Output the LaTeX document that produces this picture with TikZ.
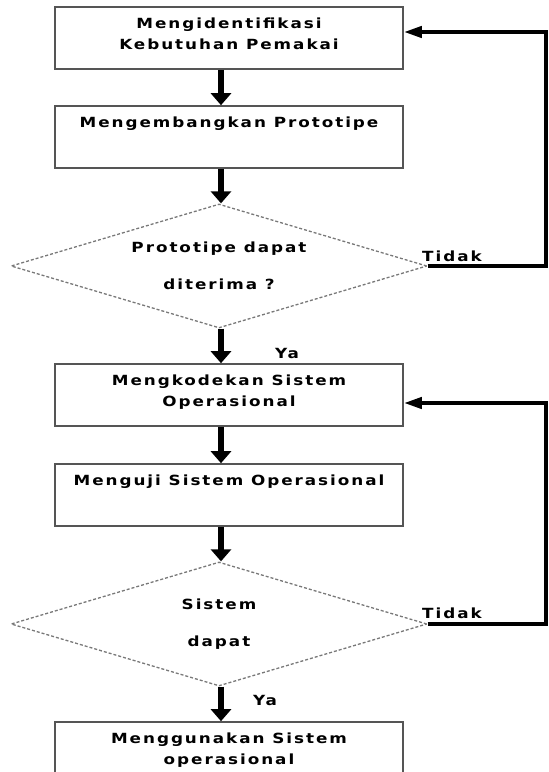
\documentclass[tikz,border=0pt]{standalone}
\usepackage{fontspec}
\setmainfont{DejaVu Sans}
\newfontfamily\lblfont{DejaVu Sans}[FakeStretch=1.2,LetterSpace=14]
\usetikzlibrary{shapes.geometric,arrows.meta}
\definecolor{boxgray}{RGB}{85,85,85}
\definecolor{dashgray}{RGB}{120,120,120}
\newcommand{\bxt}[1]{\parbox[c][41pt][t]{340pt}{\centering #1}}
\begin{document}
\begin{tikzpicture}[x=1pt,y=-1pt,
  procbox/.style={draw=boxgray, line width=1.6pt, rectangle, minimum width=348pt, minimum height=62pt, inner sep=0pt, font=\lblfont\bfseries\fontsize{14}{21}\selectfont},
  decide/.style={draw=dashgray, dash pattern=on 3pt off 2pt, line width=1.3pt, diamond, aspect=3.35, minimum width=416pt, minimum height=124pt, inner sep=0pt, align=center, font=\lblfont\bfseries\fontsize{14}{37}\selectfont},
  flow/.style={line width=6.5pt, -{Triangle[width=20pt,length=12pt]}},
  back/.style={line width=4pt, -{Triangle[width=11pt,length=18pt]}},
  tag/.style={font=\lblfont\bfseries\fontsize{14}{16}\selectfont, inner sep=0pt}
]
\useasboundingbox (0,0) rectangle (549,772);
\clip (0,0) rectangle (549,772);
\coordinate (ax) at (221,0);
\node[procbox] (b1) at (229,38) {\bxt{Mengidentifikasi\\Kebutuhan Pemakai}};
\node[procbox] (b2) at (229,137) {\bxt{Mengembangkan Prototipe}};
\node[decide] (d1) at (219,266) {Prototipe dapat\\diterima ?};
\node[procbox] (b3) at (229,395) {\bxt{Mengkodekan Sistem\\Operasional}};
\node[procbox] (b4) at (229,495) {\bxt{Menguji Sistem Operasional}};
\node[decide] (d2) at (219,624) {Sistem\\dapat};
\node[procbox] (b5) at (229,753) {\bxt{Menggunakan Sistem\\operasional}};
\draw[flow] (b1.south -| ax) -- (b2.north -| ax);
\draw[flow] (b2.south -| ax) -- (d1.north -| ax);
\draw[flow] (d1.south -| ax) -- (b3.north -| ax);
\draw[flow] (b3.south -| ax) -- (b4.north -| ax);
\draw[flow] (b4.south -| ax) -- (d2.north -| ax);
\draw[flow] (d2.south -| ax) -- (b5.north -| ax);
\coordinate (r1) at (546,32);
\coordinate (r2) at (546,403);
\draw[back] (d1.east) -| (r1) -- (b1.east |- r1);
\draw[back] (d2.east) -| (r2) -- (b3.east |- r2);
\node[tag] (t1) at (452,256) {Tidak};
\node[tag] (t2) at (452,613) {Tidak};
\node[tag] (y1) at (287,353) {Ya};
\node[tag] (y2) at (265,700) {Ya};
\end{tikzpicture}
\end{document}
